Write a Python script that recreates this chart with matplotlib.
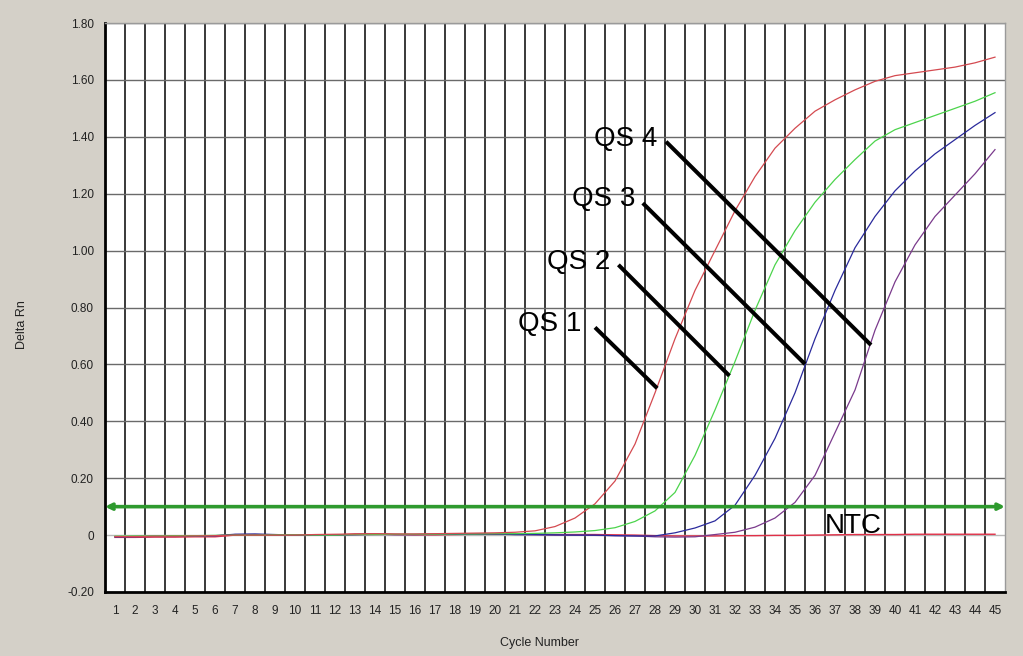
import matplotlib
matplotlib.use("Agg")
import matplotlib.pyplot as plt
import numpy as np

plt.rcParams['font.family'] = ['Liberation Sans', 'DejaVu Sans']

cycles = list(range(1, 46))

qs4 = [-0.005, -0.005, -0.004, -0.004, -0.003, -0.002, 0.0, 0.0, 0.0, 0.0,
       0.002, 0.003, 0.004, 0.005, 0.004, 0.004, 0.005, 0.006, 0.007, 0.008,
       0.010, 0.015, 0.030, 0.060, 0.110, 0.190, 0.320, 0.500, 0.690, 0.860,
       1.000, 1.140, 1.260, 1.360, 1.430, 1.490, 1.530, 1.565, 1.595, 1.615,
       1.625, 1.635, 1.645, 1.660, 1.680]
qs3 = [-0.004, -0.003, -0.003, -0.002, -0.002, -0.001, 0.0, 0.0, 0.001, 0.001,
       0.0, 0.0, 0.002, 0.002, 0.003, 0.003, 0.003, 0.004, 0.004, 0.005,
       0.005, 0.006, 0.008, 0.011, 0.016, 0.026, 0.048, 0.085, 0.150, 0.280,
       0.440, 0.610, 0.790, 0.950, 1.070, 1.170, 1.250, 1.320, 1.385, 1.425,
       1.450, 1.475, 1.500, 1.525, 1.555]
qs2 = [-0.006, -0.005, -0.004, -0.004, -0.003, -0.002, 0.003, 0.004, 0.002, 0.0,
       0.0, 0.001, 0.002, 0.003, 0.002, 0.002, 0.003, 0.003, 0.004, 0.004,
       0.002, 0.002, 0.001, 0.0, 0.0, -0.002, -0.003, -0.003, 0.008, 0.025,
       0.050, 0.105, 0.210, 0.340, 0.500, 0.690, 0.860, 1.010, 1.120, 1.210,
       1.280, 1.340, 1.390, 1.440, 1.485]
qs1 = [-0.006, -0.006, -0.005, -0.005, -0.004, -0.003, 0.002, 0.002, 0.001, 0.0,
       0.0, 0.0, 0.001, 0.002, 0.002, 0.002, 0.002, 0.003, 0.003, 0.003,
       0.002, 0.001, 0.0, 0.0, -0.001, -0.002, -0.003, -0.006, -0.007, -0.006,
       0.002, 0.010, 0.028, 0.060, 0.115, 0.210, 0.360, 0.510, 0.720, 0.890,
       1.020, 1.120, 1.195, 1.270, 1.355]
ntc = [-0.008, -0.008, -0.007, -0.007, -0.006, -0.006, 0.0, 0.0, 0.0, 0.0,
       0.0, 0.0, 0.004, 0.004, 0.002, 0.001, 0.001, 0.002, 0.003, 0.003,
       0.004, 0.003, 0.002, 0.002, 0.002, 0.001, 0.0, -0.002, -0.003, -0.003,
       -0.003, -0.002, -0.002, -0.001, -0.001, 0.0, 0.001, 0.002, 0.002, 0.002,
       0.003, 0.003, 0.003, 0.003, 0.003]

threshold = 0.1

y_ticks = [-0.2, 0.0, 0.2, 0.4, 0.6, 0.8, 1.0, 1.2, 1.4, 1.6, 1.8]
y_tick_labels = ["-0.20", "0", "0.20", "0.40", "0.60", "0.80", "1.00",
                 "1.20", "1.40", "1.60", "1.80"]

labels = ["QS 4", "QS 3", "QS 2", "QS 1"]
label_text_pos = [(28.1, 1.367), (27.0, 1.156), (25.75, 0.935), (24.33, 0.718)]
label_line_start = [(28.55, 1.383), (27.39, 1.167), (26.17, 0.950), (25.0, 0.730)]
label_line_end = [(38.8, 0.668), (35.5, 0.601), (31.72, 0.560), (28.11, 0.516)]

bg = "#d4d0c8"
fig = plt.figure(figsize=(10.23, 6.56), dpi=100, facecolor=bg)
ax = fig.add_axes([105 / 1023, 1 - 592 / 656, 900 / 1023, 569 / 656])
ax.set_facecolor("white")
ax.set_xlim(0.5, 45.5)
ax.set_ylim(-0.2, 1.8)

# grid
for xv in np.arange(1.5, 45.0, 1.0):
    ax.axvline(xv, color="#2a2a2a", lw=1.3, zorder=1)
for yv in y_ticks[1:]:
    if yv == 0.0:
        ax.axhline(yv, color="#b8b8b8", lw=1.0, zorder=1)
    else:
        ax.axhline(yv, color="#6a6a6a", lw=1.0, zorder=1)

# curves
ax.plot(cycles, ntc, color="#e03048", lw=1.0, zorder=3)
ax.plot(cycles, qs1, color="#7a3a8c", lw=0.9, zorder=3)
ax.plot(cycles, qs2, color="#2a2a9c", lw=0.9, zorder=3)
ax.plot(cycles, qs3, color="#4cd44c", lw=0.9, zorder=3)
ax.plot(cycles, qs4, color="#d44a50", lw=0.9, zorder=3)

# threshold
ax.annotate("", xy=(45.5, threshold), xytext=(0.5, threshold),
            arrowprops=dict(arrowstyle="<->", color="#2e9a2e", lw=2.6,
                            mutation_scale=9, shrinkA=0, shrinkB=0),
            zorder=4)

# labels
for lab, tp, ls, le in zip(labels, label_text_pos, label_line_start, label_line_end):
    ax.text(tp[0], tp[1], lab, fontsize=20, ha="right", va="baseline",
            color="black", zorder=6)
    ax.plot([ls[0], le[0]], [ls[1], le[1]], color="black", lw=2.9,
            solid_capstyle="butt", zorder=5)
ax.text(36.5, 0.007, "NTC", fontsize=20, ha="left", va="baseline",
        color="black", zorder=6)

# ticks
ax.set_xticks(cycles)
ax.set_xticklabels([str(c) for c in cycles])
ax.set_yticks(y_ticks)
ax.set_yticklabels(y_tick_labels)
ax.tick_params(axis="both", length=0, labelsize=8.5, labelcolor="#222222")
ax.tick_params(axis="y", pad=8)
ax.tick_params(axis="x", pad=9)

for s in ["left", "bottom"]:
    ax.spines[s].set_color("black")
    ax.spines[s].set_linewidth(2.0)
for s in ["top", "right"]:
    ax.spines[s].set_color("#9a9a9a")
    ax.spines[s].set_linewidth(1.0)

fig.text(22 / 1023, 1 - 325 / 656, "Delta Rn", rotation=90, ha="center",
         va="center", fontsize=9, color="#222222")
fig.text(540 / 1023, 1 - 643 / 656, "Cycle Number", ha="center",
         va="center", fontsize=9, color="#222222")

fig.savefig("out.png", dpi=100, facecolor=bg)
